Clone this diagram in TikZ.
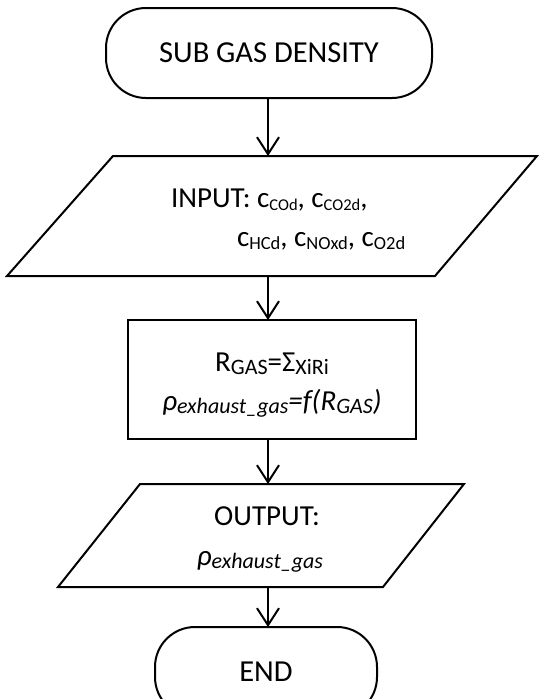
\documentclass[tikz,border=0pt]{standalone}
\usepackage{fontspec}
\setmainfont{Carlito}
\usetikzlibrary{arrows.meta,calc}
\newcommand\sbx[2][18.5]{\raisebox{-3pt}{\fontsize{#1}{#1}\selectfont #2}}
\begin{document}
\begin{tikzpicture}[x=1pt,y=1pt,
  frame/.style={draw=none, inner sep=0pt, outer sep=0pt},
  outline/.style={line width=2pt, line join=miter},
  arr/.style={line width=2pt,-{Straight Barb[length=17pt,width=22pt]}},
  term/.style={draw,line width=2pt,rounded corners=40pt,minimum height=90pt,inner sep=0pt,outer sep=0pt,font=\fontsize{30.5}{36}\selectfont},
  txt/.style={inner sep=0pt,outer sep=0pt,font=\fontsize{29}{34}\selectfont}]
\useasboundingbox (0,0) rectangle (539,-699);
\coordinate (ax) at (268,0);
% start
\node[term,minimum width=326pt] (start) at (269,-53) {SUB GAS DENSITY};
% input
\node[frame, minimum width=530pt, minimum height=120pt] (in) at (272,-216) {};
\draw[outline] (in.south west) -- ++(428,0) -- (in.north east) -- ++(-424,0) -- cycle;
\node[txt, anchor=base west] (inl1) at (171,-207) {INPUT: c\sbx[16.5]{COd}, c\sbx[16.5]{CO2d},};
\node[txt, anchor=base west] (inl2) at (237,-246) {c\sbx{HCd}, c\sbx{NOxd}, c\sbx{O2d}};
% process
\node[draw, line width=2pt, minimum width=288pt, minimum height=119pt, inner sep=0pt, outer sep=0pt] (proc) at (272,-379.5) {};
\node[txt, anchor=base] (pl1) at (272,-371) {R\sbx[22]{GAS}=Σ\sbx[22]{XiRi}};
\node[txt, anchor=base] (pl2) at (272,-410) {\itshape ρ\sbx[22]{exhaust\_gas}=f(R\sbx[22]{GAS})};
% output
\node[frame, minimum width=406pt, minimum height=103pt] (out) at (261,-535.5) {};
\draw[outline] (out.south west) -- ++(325,0) -- (out.north east) -- ++(-324,0) -- cycle;
\node[txt, anchor=base] (ol1) at (267,-525) {OUTPUT:};
\node[txt, anchor=base] (ol2) at (260,-565) {\itshape ρ\sbx[22]{exhaust\_gas}};
% end
\node[term, minimum width=222pt] (end) at (266,-672) {END};
% connectors
\draw[arr] (start.south -| ax) -- (in.north -| ax);
\draw[arr] (in.south -| ax) -- (proc.north -| ax);
\draw[arr] (proc.south -| ax) -- (out.north -| ax);
\draw[arr] (out.south -| ax) -- (end.north -| ax);
\end{tikzpicture}
\end{document}
